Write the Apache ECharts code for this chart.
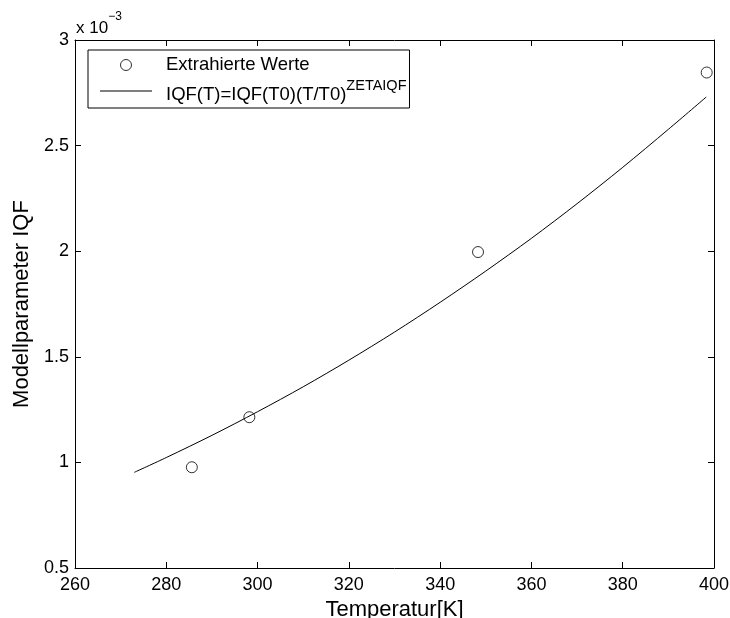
<!DOCTYPE html>
<html>
<head>
<meta charset="utf-8">
<script src="https://cdn.jsdelivr.net/npm/echarts@6/dist/echarts.min.js"></script>
<style>html,body{margin:0;padding:0;background:#fff;}#c{width:730px;height:618px;}</style>
</head>
<body>
<div id="c"></div>
<script>
// Data (IQF in units of 1e-3)
const tempPoints = [285.6, 298.2, 348.3, 398.4];
const iqfPoints = [0.977, 1.214, 1.996, 2.846];
const tempCurve = [273.0, 280, 290, 300, 310, 320, 330, 340, 350, 360, 370, 380, 390, 398.3];
const iqfCurve = [0.953, 1.023, 1.128, 1.240, 1.358, 1.484, 1.617, 1.758, 1.906, 2.061, 2.225, 2.397, 2.577, 2.730];
const xTicks = [260, 280, 300, 320, 340, 360, 380, 400];
const yTicks = [0.5, 1, 1.5, 2, 2.5, 3];
const seriesNames = ['Extrahierte Werte', 'IQF(T)=IQF(T0)(T/T0)'];
const supText = 'ZETAIQF';

const FONT = '"Liberation Sans", Arial, Helvetica, sans-serif';
const chart = echarts.init(document.getElementById('c'), null, {renderer: 'canvas'});

const axisLine = {show: true, lineStyle: {color: '#000', width: 1}};
const tick = {show: true, inside: true, length: 6, lineStyle: {color: '#000', width: 1}};

chart.setOption({
  animation: false,
  backgroundColor: '#fff',
  textStyle: {fontFamily: FONT},
  title: {
    text: '{a|x 10}{b|−3}',
    left: 76, top: 11, padding: 0,
    textStyle: {
      fontWeight: 'normal',
      rich: {
        a: {fontSize: 17, fontFamily: FONT, fontWeight: 'normal', color: '#000', lineHeight: 26, verticalAlign: 'bottom'},
        b: {fontSize: 12, fontFamily: FONT, fontWeight: 'normal', color: '#000', verticalAlign: 'top'}
      }
    }
  },
  grid: {left: 75, right: 16, top: 40, bottom: 50, containLabel: false, outerBoundsMode: 'none'},
  legend: {
    orient: 'vertical',
    left: 88, top: 50,
    padding: [5, 3, 4, 12],
    itemGap: 3,
    itemWidth: 52,
    itemHeight: 11,
    borderColor: '#000',
    borderWidth: 1,
    backgroundColor: '#fff',
    data: [
      {name: seriesNames[0], icon: 'circle', itemStyle: {color: 'rgba(255,255,255,0)', borderColor: '#000', borderWidth: 1}},
      {name: seriesNames[1], icon: 'path://M0,0 L52,0 L52,1 L0,1 Z', itemStyle: {color: '#000', borderWidth: 0}}
    ],
    formatter: function (name) {
      if (name === seriesNames[1]) return '{b|' + name + '}{s|' + supText + '}';
      return '{a|' + name + '}';
    },
    textStyle: {
      color: '#000', fontSize: 18.5, fontFamily: FONT, lineHeight: 20,
      rich: {
        a: {fontSize: 18.5, fontFamily: FONT, color: '#000', lineHeight: 20, padding: [0, 0, 0, 9]},
        b: {fontSize: 18.5, fontFamily: FONT, color: '#000', lineHeight: 26, verticalAlign: 'bottom', padding: [0, 0, 0, 9]},
        s: {fontSize: 14.5, fontFamily: FONT, color: '#000', verticalAlign: 'top'}
      }
    }
  },
  xAxis: [
    {
      type: 'value', min: xTicks[0], max: xTicks[xTicks.length - 1], interval: 20,
      position: 'bottom',
      name: 'Temperatur[K]', nameLocation: 'middle', nameGap: 26,
      nameTextStyle: {fontSize: 22, color: '#000', fontFamily: FONT},
      axisLine: axisLine, axisTick: tick,
      axisLabel: {fontSize: 18, color: '#000', margin: 8, fontFamily: FONT},
      splitLine: {show: false}
    },
    {
      type: 'value', min: xTicks[0], max: xTicks[xTicks.length - 1], interval: 20,
      position: 'top',
      axisLine: axisLine, axisTick: tick,
      axisLabel: {show: false}, splitLine: {show: false}
    }
  ],
  yAxis: [
    {
      type: 'value', min: yTicks[0], max: yTicks[yTicks.length - 1], interval: 0.5,
      position: 'left',
      name: 'Modellparameter IQF', nameLocation: 'middle', nameGap: 42,
      nameTextStyle: {fontSize: 22, color: '#000', fontFamily: FONT},
      axisLine: axisLine, axisTick: tick,
      axisLabel: {fontSize: 18, color: '#000', margin: 6, fontFamily: FONT},
      splitLine: {show: false}
    },
    {
      type: 'value', min: yTicks[0], max: yTicks[yTicks.length - 1], interval: 0.5,
      position: 'right',
      axisLine: axisLine, axisTick: tick,
      axisLabel: {show: false}, splitLine: {show: false}
    }
  ],
  series: [
    {
      name: seriesNames[0],
      type: 'scatter',
      xAxisIndex: 0, yAxisIndex: 0,
      symbol: 'circle',
      symbolSize: 11,
      itemStyle: {color: 'rgba(255,255,255,0)', borderColor: '#000', borderWidth: 1},
      data: tempPoints.map((t, i) => [t, iqfPoints[i]]),
      z: 2
    },
    {
      name: seriesNames[1],
      type: 'line',
      xAxisIndex: 0, yAxisIndex: 0,
      showSymbol: false, symbol: 'none',
      smooth: 0.3,
      lineStyle: {color: '#000', width: 1},
      itemStyle: {color: '#000'},
      data: tempCurve.map((t, i) => [t, iqfCurve[i]]),
      z: 3
    }
  ]
});
</script>
</body>
</html>
